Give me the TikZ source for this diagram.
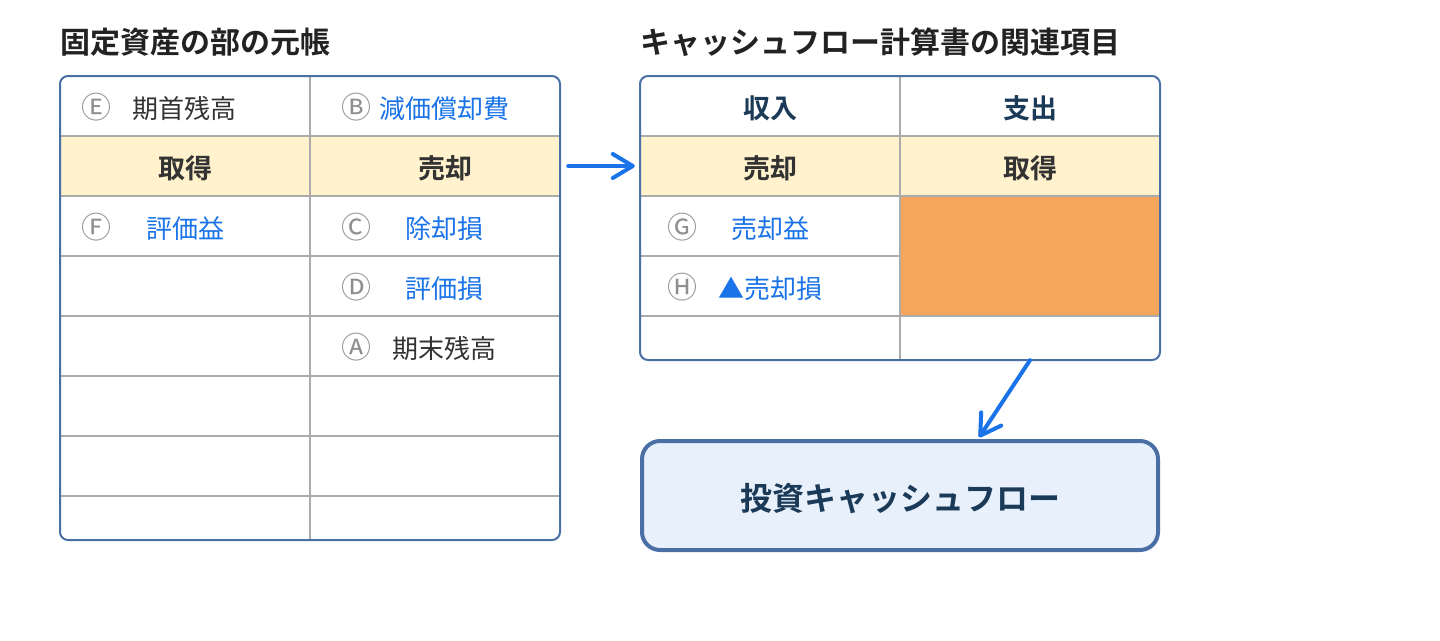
\documentclass[tikz,border=0pt]{standalone}
\usepackage{fontspec}
\newfontfamily\jp{Noto Sans CJK JP}[BoldFont={Noto Sans CJK JP Bold}]
\usetikzlibrary{positioning,calc,arrows.meta}
\definecolor{frameblue}{HTML}{4A6FA5}
\definecolor{gridgray}{HTML}{ABABAB}
\definecolor{hdrfill}{HTML}{FFF2CC}
\definecolor{orangefill}{HTML}{F4A65C}
\definecolor{boxfill}{HTML}{E8F0FC}
\definecolor{linkblue}{HTML}{1A73E8}
\definecolor{inkdark}{HTML}{333333}
\definecolor{titleink}{HTML}{222222}
\definecolor{navy}{HTML}{1B3A57}
\definecolor{markgray}{HTML}{8E8E8E}

\begin{document}
\begin{tikzpicture}
   [x=1pt,y=-1pt,
    txt/.style={font=\jp\fontsize{26}{30}\selectfont,text=inkdark,inner sep=0pt},
    bluetxt/.style={txt,text=linkblue},
    head/.style={font=\jp\bfseries\fontsize{27}{30}\selectfont,text=inkdark,inner sep=0pt},
    circmark/.style={font=\jp\fontsize{30}{30}\selectfont,text=markgray,inner sep=0pt},
    heading/.style={font=\jp\bfseries\fontsize{30}{34}\selectfont,text=titleink,anchor=west,inner sep=0pt},
    gridline/.style={draw=gridgray,line width=2pt},
    ledgerframe/.style={draw=frameblue,line width=2pt,rounded corners=8pt},
    cell/.style={minimum width=#1,minimum height=60pt,inner sep=0pt},
    flow/.style={draw=linkblue,line width=4pt,line cap=round,
      -{Straight Barb[length=20pt,width=24pt,round]}},
    investbox/.style={draw=frameblue,fill=boxfill,line width=4pt,rounded corners=18pt,
      minimum width=516pt,minimum height=109pt,
      font=\jp\bfseries\fontsize{32}{36}\selectfont,text=navy}]
\useasboundingbox (0,0) rectangle (1440,640);
% titles
\node[heading] (ledTitle) at (60,42) {固定資産の部の元帳};
\node[heading] (cfTitle) at (640,42) {キャッシュフロー計算書の関連項目};
% ledger of fixed assets
\fill[hdrfill] (60,136) rectangle (560,196);
\foreach \y in {136,196,...,496}
  \draw[gridline] (60,\y) -- (560,\y);
\draw[gridline] (310,76) -- (310,540);
\draw[ledgerframe] (60,76) rectangle (560,540);
\node[cell=250pt] (ledSell) at (435,166) {};
\node[circmark] (mkE) at (96,107.5) {Ⓔ};
\node[txt] (begBal) at (184,108.5) {期首残高};
\node[circmark] (mkB) at (356,107.5) {Ⓑ};
\node[bluetxt] (deprec) at (444,108.5) {減価償却費};
\node[head] (ledBuyTxt) at (185,168) {取得};
\node[head] (ledSellTxt) at (445,168) {売却};
\node[circmark] (mkF) at (96,227.5) {Ⓕ};
\node[bluetxt] (valGain) at (185,228.5) {評価益};
\node[circmark] (mkC) at (356,227.5) {Ⓒ};
\node[bluetxt] (disposal) at (444,228.5) {除却損};
\node[circmark] (mkD) at (356,287.5) {Ⓓ};
\node[bluetxt] (valLoss) at (444,288.5) {評価損};
\node[circmark] (mkA) at (356,347.5) {Ⓐ};
\node[txt] (endBal) at (444,348.5) {期末残高};
% cash flow statement items
\fill[hdrfill] (640,136) rectangle (1160,196);
\fill[orangefill] (900,196) rectangle (1160,316);
\foreach \y in {136,196,316}
  \draw[gridline] (640,\y) -- (1160,\y);
\draw[gridline] (640,256) -- (900,256);
\draw[gridline] (900,76) -- (900,360);
\draw[ledgerframe] (640,76) rectangle (1160,360);
\node[cell=260pt] (cfSell) at (770,166) {};
\node[cell=260pt,minimum height=44pt] (cfOutLast) at (1030,338) {};
\node[head,text=navy] (cfIn) at (770,108) {収入};
\node[head,text=navy] (cfOut) at (1030,108) {支出};
\node[head] (cfSellTxt) at (770,168) {売却};
\node[head] (cfBuyTxt) at (1030,168) {取得};
\node[circmark] (mkG) at (682,227.5) {Ⓖ};
\node[bluetxt] (sellGain) at (770,228.5) {売却益};
\node[circmark] (mkH) at (682,287.5) {Ⓗ};
\node[bluetxt] (sellLoss) at (770,288.5) {▲売却損};
% investing cash flow
\node[investbox] (invest) at (900,495.5) {\raisebox{-3pt}[\height][\depth]{投資キャッシュフロー}};
\coordinate (investIn) at ($(invest.north)+(78,0)$);
\draw[flow,shorten <=8pt,shorten >=5pt] (ledSell.east) -- (cfSell.west);
\draw[flow,shorten >=2pt] (cfOutLast.south) -- (investIn);
\end{tikzpicture}
\end{document}
